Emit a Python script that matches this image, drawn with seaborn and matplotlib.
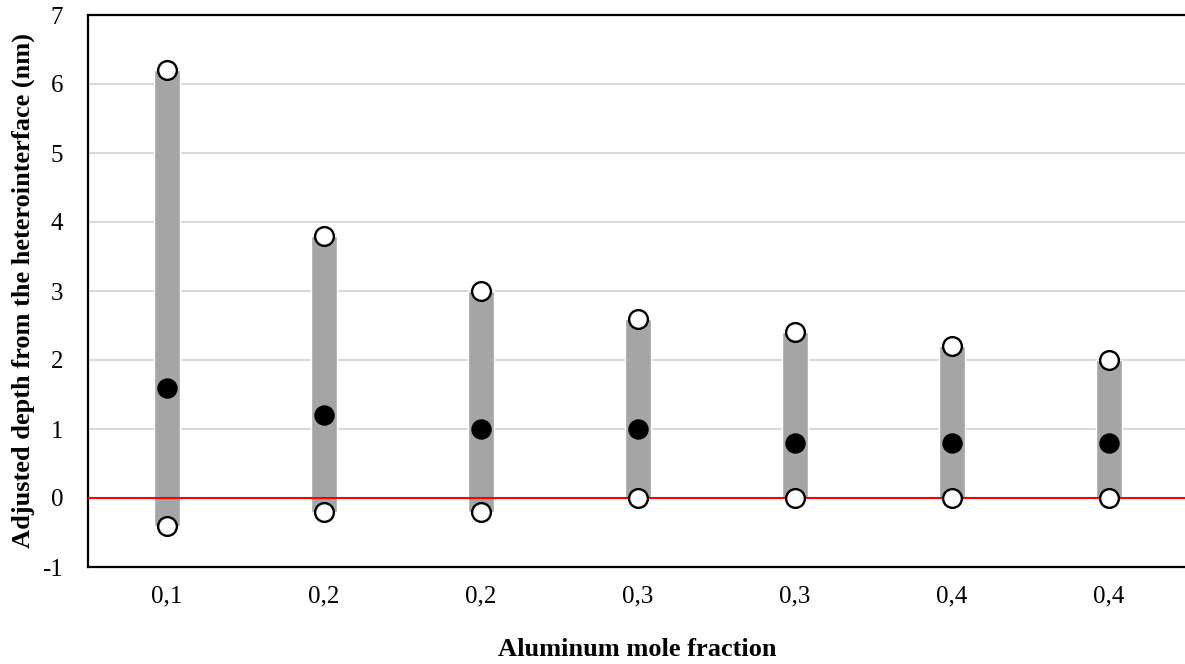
import matplotlib
matplotlib.use("Agg")
import matplotlib.pyplot as plt
import seaborn as sns
import pandas as pd
import numpy as np

categories = ["0,1", "0,2", "0,2", "0,3", "0,3", "0,4", "0,4"]
upper = [6.2, 3.8, 3.0, 2.6, 2.4, 2.2, 2.0]
lower = [-0.4, -0.2, -0.2, 0.0, 0.0, 0.0, 0.0]
middle = [1.6, 1.2, 1.0, 1.0, 0.8, 0.8, 0.8]
yticks = [-1, 0, 1, 2, 3, 4, 5, 6, 7]

sns.set_style("white")
plt.rcParams['font.family'] = ['Liberation Serif', 'DejaVu Serif']
plt.rcParams['text.color'] = 'black'
plt.rcParams['axes.labelcolor'] = 'black'
plt.rcParams['xtick.color'] = 'black'
plt.rcParams['ytick.color'] = 'black'

pos = [str(i) for i in range(len(categories))]
df = pd.DataFrame({"pos": pos, "span": np.array(upper) - np.array(lower),
                   "low": lower, "high": upper, "mid": middle})

fig = plt.figure(figsize=(11.85, 6.64), dpi=100)
ax = fig.add_axes([88/1185, (664-567)/664, 1 - 88/1185 + 0.002, (567-15)/664])

for y in yticks[1:]:
    ax.axhline(y, color="#d9d9d9", lw=1.5, zorder=0)

sns.barplot(data=df, x="pos", y="span", order=pos, bottom=df["low"].values,
            color="#a5a5a5", saturation=1, width=26/157, ax=ax, zorder=2)
ax.axhline(0, color="#ff0000", lw=1.5, zorder=3)
ms = 13.5**2
sns.scatterplot(data=df, x="pos", y="high", ax=ax, s=ms, color="white",
                edgecolor="black", linewidth=1.7, zorder=4, legend=False)
sns.scatterplot(data=df, x="pos", y="low", ax=ax, s=ms, color="white",
                edgecolor="black", linewidth=1.7, zorder=4, legend=False)
sns.scatterplot(data=df, x="pos", y="mid", ax=ax, s=ms, color="black",
                edgecolor="black", linewidth=1.2, zorder=4, legend=False)

ax.set_xlim(-0.5, 6.5)
ax.set_ylim(-1, 7)
ax.set_yticks(yticks)
ax.set_yticklabels([str(v) for v in yticks], fontsize=18, color="black")
ax.set_xticks(range(len(categories)))
ax.set_xticklabels(categories, fontsize=18, color="black")
ax.tick_params(axis="x", length=0, pad=13)
ax.tick_params(axis="y", length=0, pad=18)

for side in ["left", "top", "bottom"]:
    ax.spines[side].set_visible(True)
    ax.spines[side].set_color("black")
    ax.spines[side].set_linewidth(1.6)
ax.spines["right"].set_visible(False)

ax.set_xlabel("Aluminum mole fraction", fontsize=19, fontweight="bold", color="black")
ax.set_ylabel("Adjusted depth from the heterointerface (nm)", fontsize=19,
              fontweight="bold", color="black")
ax.xaxis.set_label_coords(0.5, -0.128)
ax.yaxis.set_label_coords(-0.048, 0.5)

fig.savefig("out.png", dpi=100)
